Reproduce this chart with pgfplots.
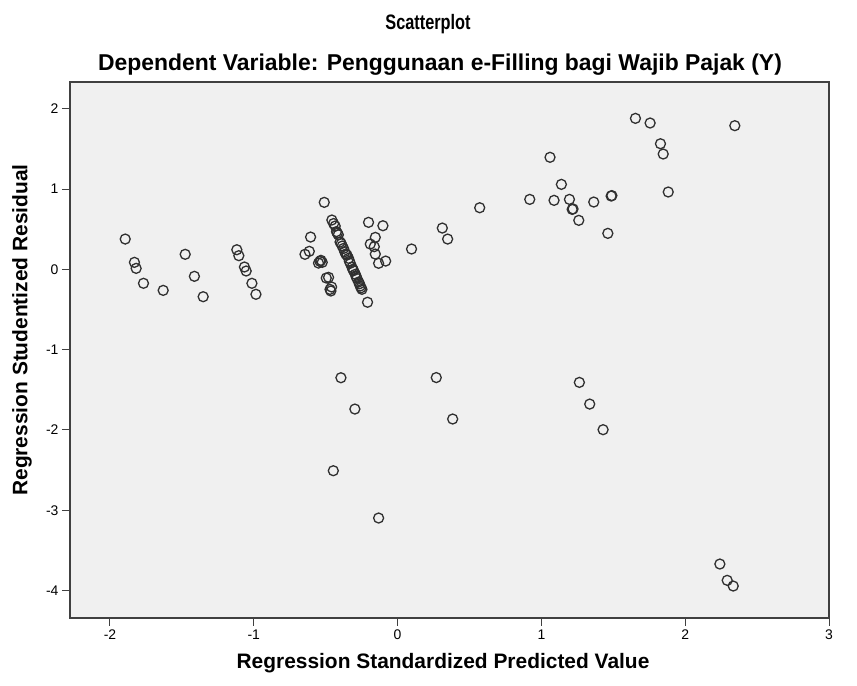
\documentclass[border=0pt]{standalone}
\usepackage{pgfplots}
\pgfplotsset{compat=1.18}
\usepackage{fontspec}
\setmainfont{Liberation Sans}
\definecolor{bg}{HTML}{F0F0F0}
\definecolor{frm}{HTML}{404040}
\definecolor{mk}{HTML}{303030}
\begin{document}
\begin{tikzpicture}[x=1bp,y=1bp]
\begin{axis}[at={(0,0)}, anchor=south west, scale only axis,
  width=759bp, height=536bp,
  xmin=-2.278, xmax=3.0, ymin=-4.342, ymax=2.333,
  axis background/.style={fill=bg},
  axis line style={frm, line width=1.3bp},
  tick pos=left, tick align=outside, major tick length=8bp,
  tick style={frm, line width=1bp},
  xtick={-2,-1,0,1,2,3}, xticklabels={-2,-1,0,1,2,3},
  ytick={-4,-3,-2,-1,0,1,2}, yticklabels={-4,-3,-2,-1,0,1,2},
  ticklabel style={font=\fontsize{14}{16}\selectfont, text=black},
  clip=false]
\addplot[only marks, mark=o, mark size=5bp, mark options={draw=mk, line width=1.3bp}] table {
x y
-1.894 0.377
-1.830 0.087
-1.818 0.012
-1.767 -0.174
-1.630 -0.262
-1.477 0.187
-1.413 -0.087
-1.352 -0.341
-1.118 0.244
-1.104 0.170
-1.065 0.029
-1.053 -0.021
-1.013 -0.174
-0.985 -0.311
-0.644 0.187
-0.614 0.224
-0.605 0.402
-0.550 0.078
-0.533 0.112
-0.524 0.087
-0.540 0.100
-0.510 0.834
-0.496 -0.108
-0.480 -0.100
-0.459 -0.220
-0.464 -0.270
-0.470 -0.250
-0.457 0.614
-0.445 0.570
-0.434 0.539
-0.425 0.470
-0.419 0.450
-0.412 0.430
-0.400 0.340
-0.392 0.320
-0.385 0.290
-0.376 0.260
-0.368 0.220
-0.360 0.190
-0.352 0.178
-0.341 0.137
-0.335 0.100
-0.329 0.075
-0.317 0.025
-0.311 0.000
-0.306 -0.017
-0.294 -0.062
-0.288 -0.090
-0.283 -0.112
-0.271 -0.158
-0.265 -0.180
-0.260 -0.208
-0.254 -0.230
-0.248 -0.249
-0.209 -0.410
-0.202 0.585
-0.102 0.543
-0.155 0.398
-0.190 0.315
-0.162 0.282
-0.155 0.190
-0.132 0.075
-0.083 0.103
0.097 0.253
0.311 0.514
0.348 0.377
0.571 0.767
0.919 0.871
1.060 1.395
1.088 0.859
1.139 1.058
1.195 0.871
1.214 0.747
1.220 0.752
1.260 0.610
1.364 0.838
1.485 0.913
1.490 0.918
1.462 0.448
1.654 1.880
1.756 1.822
1.828 1.564
1.847 1.436
1.882 0.963
2.345 1.789
-0.394 -1.350
0.269 -1.348
-0.297 -1.740
0.383 -1.864
-0.447 -2.508
-0.132 -3.097
1.264 -1.408
1.336 -1.678
1.429 -1.997
2.241 -3.670
2.292 -3.873
2.334 -3.944
};
\end{axis}
\node[font=\bfseries\fontsize{21}{24}\selectfont] at (358,594) {\scalebox{0.78}[1]{Scatterplot}};
\node[font=\bfseries\fontsize{23}{26}\selectfont] at (370,553) {Dependent Variable: Penggunaan e-Filling bagi Wajib Pajak (Y)};
\node[font=\bfseries\fontsize{21}{24}\selectfont] at (373,-45) {Regression Standardized Predicted Value};
\node[font=\bfseries\fontsize{21}{24}\selectfont, rotate=90] at (-48,288) {Regression Studentized Residual};
\path[use as bounding box] (-70,-68) rectangle (787,618);
\end{tikzpicture}
\end{document}
